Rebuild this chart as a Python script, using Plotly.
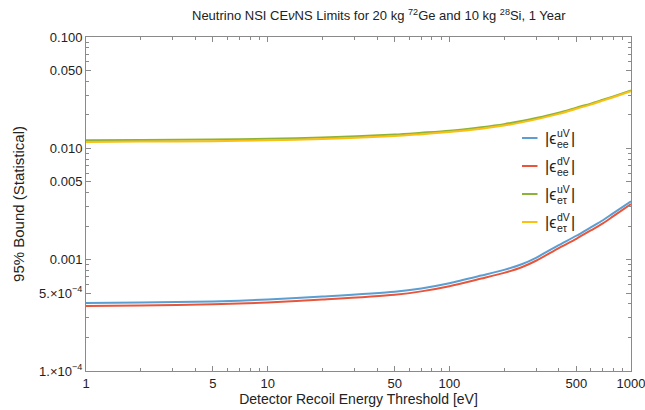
import plotly.graph_objects as go

# Recoil energy thresholds [eV]
energy = [1, 2, 5, 10, 20, 50, 70, 100, 150, 200, 250, 300, 400, 500, 600, 700, 800, 1000]

# 95% statistical bounds on the NSI couplings
eps_ee_uV = [4.08e-4, 4.12e-4, 4.22e-4, 4.38e-4, 4.66e-4, 5.15e-4, 5.52e-4, 6.15e-4, 7.20e-4,
             8.10e-4, 9.10e-4, 1.04e-3, 1.35e-3, 1.64e-3, 1.95e-3, 2.26e-3, 2.62e-3, 3.34e-3]
eps_ee_dV = [3.84e-4, 3.87e-4, 3.97e-4, 4.12e-4, 4.38e-4, 4.84e-4, 5.19e-4, 5.78e-4, 6.77e-4,
             7.61e-4, 8.55e-4, 9.78e-4, 1.27e-3, 1.54e-3, 1.83e-3, 2.12e-3, 2.46e-3, 3.16e-3]
eps_et_uV = [0.0118, 0.0119, 0.0120, 0.0122, 0.0125, 0.0133, 0.0138, 0.0144, 0.0155,
             0.0165, 0.0176, 0.0187, 0.0209, 0.0232, 0.0252, 0.0273, 0.0293, 0.0331]
eps_et_dV = [0.0114, 0.0115, 0.0116, 0.0118, 0.0121, 0.0129, 0.0134, 0.0140, 0.0150,
             0.0160, 0.0171, 0.0182, 0.0204, 0.0227, 0.0247, 0.0268, 0.0288, 0.0326]

series_sup = ["uV", "dV", "uV", "dV"]
series_sub = ["ee", "ee", "eτ", "eτ"]
series_vals = [eps_ee_uV, eps_ee_dV, eps_et_uV, eps_et_dV]
colors = ["#5B9ED2", "#E8553B", "#8CB23A", "#FCC012"]

x_tickvals = [1, 5, 10, 50, 100, 500, 1000]
x_ticktext = ["1", "5", "10", "50", "100", "500", "1000"]
y_tickvals = [1e-4, 5e-4, 1e-3, 5e-3, 1e-2, 5e-2, 1e-1]
y_ticktext = ["1.×10<sup>−4</sup>", "5.×10<sup>−4</sup>", "0.001", "0.005", "0.010", "0.050", "0.100"]

FONT = "Liberation Sans, Arial, sans-serif"
TXT = "#222222"
FRAME = "#8a8a8a"

W, H = 645, 410
L, R, T, B = 86, 631, 37, 371


def px_x(p):
    return (p - L) / (R - L)


def px_y(p):
    return (B - p) / (B - T)


def minor_vals(lo_exp, hi_exp, skip5=True):
    vals = []
    for e in range(lo_exp, hi_exp):
        for m in range(2, 10):
            if skip5 and m == 5:
                continue
            vals.append(m * 10 ** e)
    return vals


fig = go.Figure()
for vals, col in zip(series_vals, colors):
    fig.add_trace(go.Scatter(x=energy, y=vals, mode="lines",
                             line=dict(color=col, width=2, shape="spline", smoothing=0.8),
                             showlegend=False, hoverinfo="skip"))

axis_common = dict(
    type="log", showgrid=False, zeroline=False, automargin=False,
    showline=True, linecolor=FRAME, linewidth=1, mirror="ticks",
    ticks="inside", ticklen=5, tickcolor=FRAME, tickwidth=1,
    ticklabeloverflow="allow",
    tickfont=dict(family=FONT, size=13, color=TXT),
)

EPS = 1e-6
fig.update_xaxes(
    **axis_common, range=[-EPS, 3 + EPS],
    tickmode="array", tickvals=x_tickvals, ticktext=x_ticktext,
    minor=dict(tickmode="array", tickvals=minor_vals(0, 3), ticks="inside",
               ticklen=3, tickcolor=FRAME, showgrid=False),
    title=dict(text="Detector Recoil Energy Threshold [eV]",
               font=dict(family=FONT, size=14, color=TXT), standoff=4),
)
fig.update_yaxes(
    **axis_common, range=[-4 - EPS, -1 + EPS],
    tickmode="array", tickvals=y_tickvals, ticktext=y_ticktext,
    minor=dict(tickmode="array", tickvals=minor_vals(-4, -1), ticks="inside",
               ticklen=3, tickcolor=FRAME, showgrid=False),
    title=dict(text="95% Bound (Statistical)",
               font=dict(family=FONT, size=15, color=TXT), standoff=10),
)

# Legend drawn as line samples plus stacked super/subscript labels
legend_y = [138, 166, 194, 222]
shapes = []
annotations = []
for ly, col, sup, sub in zip(legend_y, colors, series_sup, series_sub):
    shapes.append(dict(type="line", xref="paper", yref="paper",
                       x0=px_x(522), x1=px_x(537.5), y0=px_y(ly), y1=px_y(ly),
                       line=dict(color=col, width=2)))
    annotations.append(dict(text="|ϵ", xref="paper", yref="paper",
                            x=px_x(544), y=px_y(ly + 0.5), xanchor="left", yanchor="middle",
                            showarrow=False, borderpad=0,
                            font=dict(family=FONT, size=16, color=TXT)))
    annotations.append(dict(text=sup, xref="paper", yref="paper",
                            x=px_x(556), y=px_y(ly - 5), xanchor="left", yanchor="middle",
                            showarrow=False, borderpad=0,
                            font=dict(family=FONT, size=10.5, color=TXT)))
    annotations.append(dict(text=sub, xref="paper", yref="paper",
                            x=px_x(556), y=px_y(ly + 5.5), xanchor="left", yanchor="middle",
                            showarrow=False, borderpad=0,
                            font=dict(family=FONT, size=10.5, color=TXT)))
    annotations.append(dict(text="|", xref="paper", yref="paper",
                            x=px_x(569.5), y=px_y(ly + 0.5), xanchor="left", yanchor="middle",
                            showarrow=False, borderpad=0,
                            font=dict(family=FONT, size=16, color=TXT)))

annotations.append(dict(
    text="Neutrino NSI CE<i>ν</i>NS Limits for 20 kg <sup>72</sup>Ge and 10 kg <sup>28</sup>Si, 1 Year",
    xref="paper", yref="paper", x=px_x(379), y=px_y(15), xanchor="center", yanchor="middle",
    showarrow=False, font=dict(family=FONT, size=13, color=TXT)))

fig.update_layout(
    width=W, height=H,
    margin=dict(l=L, r=W - R, t=T, b=H - B, autoexpand=False),
    paper_bgcolor="white", plot_bgcolor="white",
    shapes=shapes, annotations=annotations,
    showlegend=False,
)

fig.write_html("out.html")
